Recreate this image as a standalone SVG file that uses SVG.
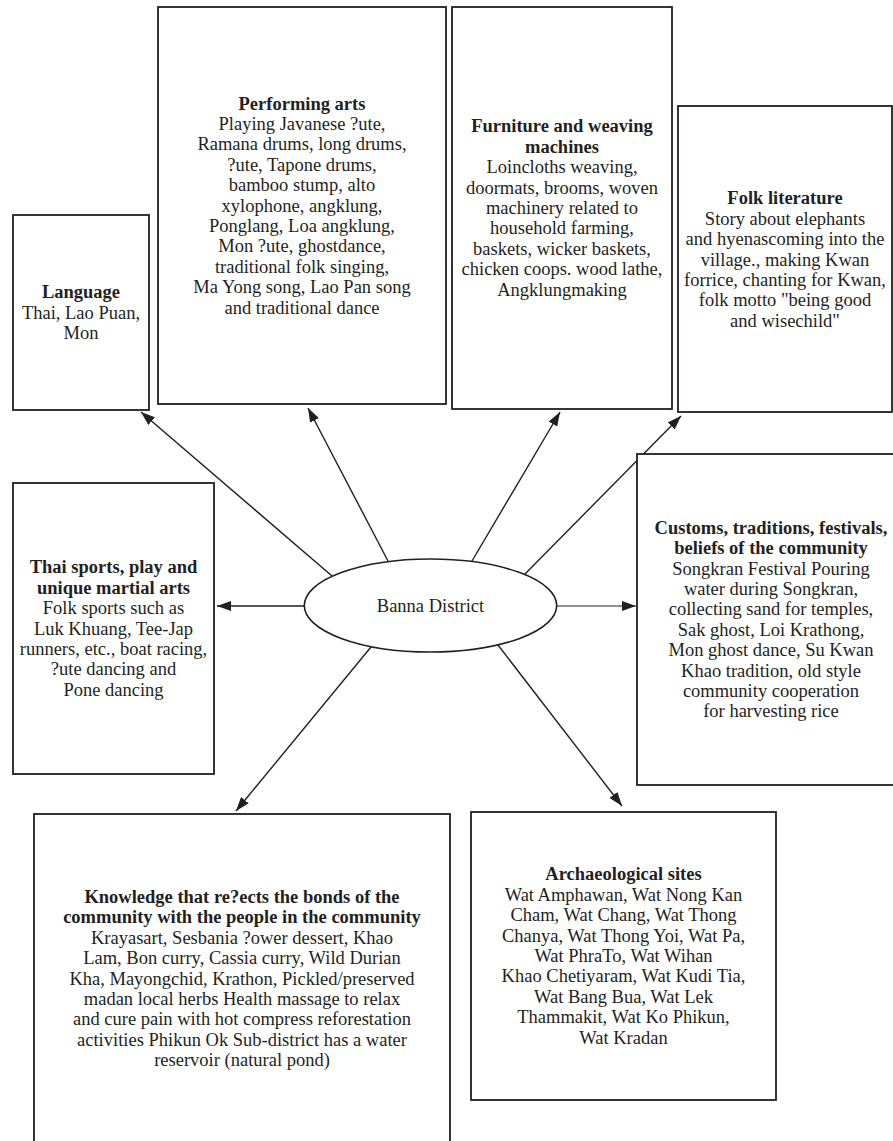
<svg xmlns="http://www.w3.org/2000/svg" width="893" height="1141" viewBox="0 0 893 1141">
<defs>
<style>
.box{fill:#fff;stroke:#231f20;stroke-width:1.8}
.ell{fill:#fff;stroke:#231f20;stroke-width:1.6}
.t{font-family:"Liberation Serif","Times New Roman",serif;font-size:18.5px;fill:#231f20;text-anchor:middle}
.b{font-weight:bold}
.c{stroke:#231f20;stroke-width:1.4;fill:none;marker-end:url(#ah)}
</style>
<marker id="ah" viewBox="0 0 14 10" refX="14" refY="5" markerWidth="14" markerHeight="10" markerUnits="userSpaceOnUse" orient="auto">
<path d="M0,0 L14,5 L0,10 Z" fill="#231f20"/>
</marker>
</defs>
<rect width="893" height="1141" fill="#fff"/>

<g id="connectors">
<line class="c" x1="332" y1="576" x2="141" y2="412"/>
<line class="c" x1="388" y1="561" x2="308" y2="408"/>
<line class="c" x1="472" y1="561" x2="560" y2="412"/>
<line class="c" x1="525" y1="574" x2="681" y2="416"/>
<line class="c" x1="304" y1="606" x2="217" y2="606"/>
<line class="c" x1="557" y1="606" x2="636" y2="606" style="stroke-width:1"/>
<line class="c" x1="371" y1="647" x2="236" y2="811"/>
<line class="c" x1="498" y1="645" x2="622" y2="806"/>
</g>

<g id="center">
<ellipse class="ell" cx="430.5" cy="605.5" rx="126.2" ry="46.5"/>
<text class="t" x="430.5" y="612">Banna District</text>
</g>

<g id="language">
<rect class="box" x="13" y="215" width="136" height="195"/>
<text class="t"><tspan class="b" x="81" y="298">Language</tspan><tspan x="81" y="318.5">Thai, Lao Puan,</tspan><tspan x="81" y="339">Mon</tspan></text>
</g>

<g id="performing-arts">
<rect class="box" x="158" y="7" width="288" height="397"/>
<text class="t"><tspan class="b" x="302" y="109.5">Performing arts</tspan><tspan x="302" y="129.9">Playing Javanese ?ute,</tspan><tspan x="302" y="150.3">Ramana drums, long drums,</tspan><tspan x="302" y="170.7">?ute, Tapone drums,</tspan><tspan x="302" y="191.1">bamboo stump, alto</tspan><tspan x="302" y="211.5">xylophone, angklung,</tspan><tspan x="302" y="231.9">Ponglang, Loa angklung,</tspan><tspan x="302" y="252.3">Mon ?ute, ghostdance,</tspan><tspan x="302" y="272.7">traditional folk singing,</tspan><tspan x="302" y="293.1">Ma Yong song, Lao Pan song</tspan><tspan x="302" y="313.5">and traditional dance</tspan></text>
</g>

<g id="furniture">
<rect class="box" x="452" y="7" width="220" height="402"/>
<text class="t"><tspan class="b" x="562" y="132.4">Furniture and weaving</tspan><tspan class="b" x="562" y="152.8">machines</tspan><tspan x="562" y="173.2">Loincloths weaving,</tspan><tspan x="562" y="193.6">doormats, brooms, woven</tspan><tspan x="562" y="214">machinery related to</tspan><tspan x="562" y="234.4">household farming,</tspan><tspan x="562" y="254.8">baskets, wicker baskets,</tspan><tspan x="562" y="275.2">chicken coops. wood lathe,</tspan><tspan x="562" y="295.6">Angklungmaking</tspan></text>
</g>

<g id="folk-literature">
<rect class="box" x="678" y="106" width="214" height="306"/>
<text class="t"><tspan class="b" x="785" y="204.3">Folk literature</tspan><tspan x="785" y="224.7">Story about elephants</tspan><tspan x="785" y="245.1">and hyenascoming into the</tspan><tspan x="785" y="265.5">village., making Kwan</tspan><tspan x="785" y="285.9">forrice, chanting for Kwan,</tspan><tspan x="785" y="306.3">folk motto "being good</tspan><tspan x="785" y="326.7">and wisechild"</tspan></text>
</g>

<g id="thai-sports">
<rect class="box" x="13" y="483" width="201" height="291"/>
<text class="t"><tspan class="b" x="113.5" y="573.3">Thai sports, play and</tspan><tspan class="b" x="113.5" y="593.7">unique martial arts</tspan><tspan x="113.5" y="614.1">Folk sports such as</tspan><tspan x="113.5" y="634.5">Luk Khuang, Tee-Jap</tspan><tspan x="113.5" y="654.9">runners, etc., boat racing,</tspan><tspan x="113.5" y="675.3">?ute dancing and</tspan><tspan x="113.5" y="695.7">Pone dancing</tspan></text>
</g>

<g id="customs">
<rect class="box" x="637" y="454" width="268" height="331"/>
<text class="t"><tspan class="b" x="771" y="533.7">Customs, traditions, festivals,</tspan><tspan class="b" x="771" y="554.1">beliefs of the community</tspan><tspan x="771" y="574.5">Songkran Festival Pouring</tspan><tspan x="771" y="594.9">water during Songkran,</tspan><tspan x="771" y="615.3">collecting sand for temples,</tspan><tspan x="771" y="635.7">Sak ghost, Loi Krathong,</tspan><tspan x="771" y="656.1">Mon ghost dance, Su Kwan</tspan><tspan x="771" y="676.5">Khao tradition, old style</tspan><tspan x="771" y="696.9">community cooperation</tspan><tspan x="771" y="717.3">for harvesting rice</tspan></text>
</g>

<g id="knowledge">
<rect class="box" x="34" y="814" width="416" height="335"/>
<text class="t"><tspan class="b" x="242" y="902.9">Knowledge that re?ects the bonds of the</tspan><tspan class="b" x="242" y="923.3">community with the people in the community</tspan><tspan x="242" y="943.7">Krayasart, Sesbania ?ower dessert, Khao</tspan><tspan x="242" y="964.1">Lam, Bon curry, Cassia curry, Wild Durian</tspan><tspan x="242" y="984.5">Kha, Mayongchid, Krathon, Pickled/preserved</tspan><tspan x="242" y="1004.9">madan local herbs Health massage to relax</tspan><tspan x="242" y="1025.3">and cure pain with hot compress reforestation</tspan><tspan x="242" y="1045.7">activities Phikun Ok Sub-district has a water</tspan><tspan x="242" y="1066.1">reservoir (natural pond)</tspan></text>
</g>

<g id="archaeological">
<rect class="box" x="471" y="812" width="305" height="288"/>
<text class="t"><tspan class="b" x="623.5" y="880.4">Archaeological sites</tspan><tspan x="623.5" y="900.8">Wat Amphawan, Wat Nong Kan</tspan><tspan x="623.5" y="921.2">Cham, Wat Chang, Wat Thong</tspan><tspan x="623.5" y="941.6">Chanya, Wat Thong Yoi, Wat Pa,</tspan><tspan x="623.5" y="962">Wat PhraTo, Wat Wihan</tspan><tspan x="623.5" y="982.4">Khao Chetiyaram, Wat Kudi Tia,</tspan><tspan x="623.5" y="1002.8">Wat Bang Bua, Wat Lek</tspan><tspan x="623.5" y="1023.2">Thammakit, Wat Ko Phikun,</tspan><tspan x="623.5" y="1043.6">Wat Kradan</tspan></text>
</g>
</svg>
